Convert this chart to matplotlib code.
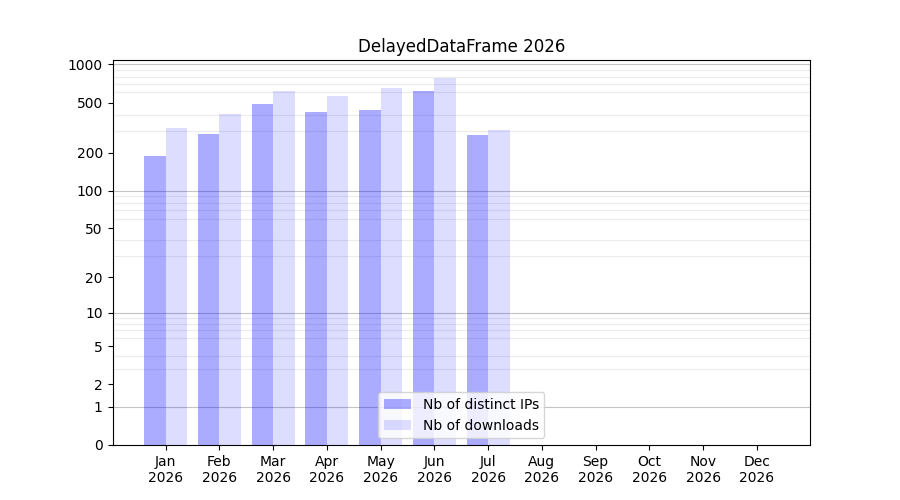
import numpy as np
import matplotlib
matplotlib.use('Agg')
import matplotlib.pyplot as plt

months = ['Jan', 'Feb', 'Mar', 'Apr', 'May', 'Jun', 'Jul', 'Aug', 'Sep', 'Oct', 'Nov', 'Dec']
year = '2026'
distinct_ips = [188, 281, 484, 419, 434, 613, 276, 0, 0, 0, 0, 0]
downloads = [313, 404, 613, 559, 647, 776, 302, 0, 0, 0, 0, 0]
yticks = [0, 1, 2, 5, 10, 20, 50, 100, 200, 500, 1000]


def forward(v):
    return np.log10(1 + np.asarray(v, dtype=float))


def inverse(v):
    return 10 ** np.asarray(v, dtype=float) - 1


fig, ax = plt.subplots(figsize=(9, 5), dpi=100)
x = np.arange(len(months))
# translucent bars, the grid shows through them
ax.bar(x - 0.2, distinct_ips, width=0.4, color='blue', alpha=0.33, label='Nb of distinct IPs')
ax.bar(x + 0.2, downloads, width=0.4, color='blue', alpha=0.135, label='Nb of downloads')

ax.set_yscale('function', functions=(forward, inverse))
ax.set_yticks(yticks)
ax.set_yticklabels([str(t) for t in yticks])
minor = [m * 10 ** d for d in range(0, 3) for m in range(2, 10)]
ax.set_yticks(minor, minor=True)
ax.tick_params(axis='y', which='minor', length=0)
ax.yaxis.grid(False, which='major')
for v in [1, 10, 100, 1000]:
    ax.axhline(v, color='#c4c4c4', linewidth=0.8, zorder=0.5)
ax.yaxis.grid(True, which='minor', color='#ececec', linewidth=0.8)
ax.set_axisbelow(True)

ax.set_xticks(x)
ax.set_xticklabels([f'{m}\n{year}' for m in months])
ax.set_title('DelayedDataFrame 2026')
ax.legend(loc='lower center')

fig.savefig('out.png')
